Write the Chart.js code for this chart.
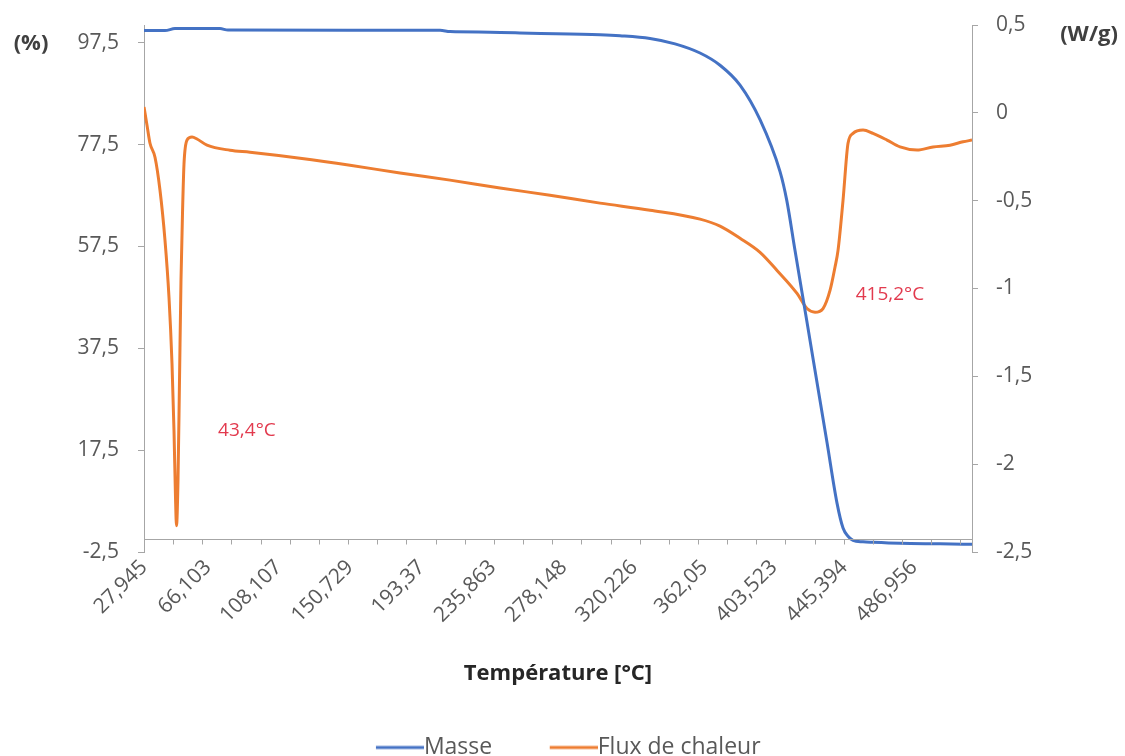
<!DOCTYPE html>
<html>
<head>
<meta charset="utf-8">
<script src="https://cdn.jsdelivr.net/npm/chart.js@4.4.1/dist/chart.umd.min.js"></script>
<style>
  html, body { margin: 0; padding: 0; background: #fff; }
  #wrap { width: 1125px; height: 756px; position: relative; }
</style>
</head>
<body>
<div id="wrap"><canvas id="tgaChart"></canvas></div>
<script>
// temperature ticks shown on the x axis (°C)
const tempTicks = [27.945, 66.103, 108.107, 150.729, 193.37, 235.863, 278.148, 320.226, 362.05, 403.523, 445.394, 486.956];
const massTicks = [-2.5, 17.5, 37.5, 57.5, 77.5, 97.5];

// Masse (%)
const masseTemp = [27.95, 40.46, 46.42, 73.25, 78.02, 204.39, 210.36, 234.20, 258.04, 299.77, 311.69, 329.58,
  344.48, 359.39, 371.31, 383.23, 395.15, 407.07, 411.06, 416.01, 423.16, 429.12, 435.08, 441.04, 444.62,
  447.60, 450.58, 456.54, 462.50, 478.60, 502.44, 521.52];
const masseVals = [99.9, 99.9, 100.3, 100.3, 100.0, 99.95, 99.7, 99.6, 99.4, 99.1, 98.9, 98.35,
  97.3, 95.5, 93.1, 89.2, 82.4, 72.2, 66.6, 56.7, 42.6, 30.8, 19.0, 7.1, 2.2,
  0.6, -0.2, -0.5, -0.6, -0.8, -0.9, -1.0];

// Flux de chaleur (W/g)
const fluxTemp = [27.95, 29.73, 31.52, 34.50, 37.48, 40.46, 42.85, 44.64, 45.83, 46.72, 47.32, 48.21, 49.11,
  50.00, 50.90, 51.79, 53.58, 56.56, 59.54, 65.50, 79.21, 91.13, 120.94, 150.75, 180.55, 210.36, 240.16,
  269.97, 299.77, 329.58, 359.39, 371.31, 383.23, 395.15, 405.28, 417.20, 423.16, 427.93, 432.70, 436.87,
  439.85, 441.64, 444.62, 447.60, 450.58, 456.54, 462.50, 470.85, 478.60, 488.73, 498.27, 508.40, 516.15, 521.52];
const fluxVals = [0.033, -0.07, -0.173, -0.253, -0.441, -0.726, -1.051, -1.428, -1.81, -2.19, -2.35, -2.09, -1.52,
  -0.95, -0.57, -0.29, -0.155, -0.138, -0.149, -0.184, -0.213, -0.224, -0.258, -0.298, -0.343, -0.383, -0.428,
  -0.469, -0.514, -0.554, -0.605, -0.645, -0.714, -0.794, -0.897, -1.028, -1.114, -1.135, -1.114, -1.011,
  -0.878, -0.783, -0.498, -0.173, -0.117, -0.098, -0.117, -0.155, -0.194, -0.212, -0.194, -0.184, -0.165, -0.155];

const peakNotes = [
  { text: '43,4°C', t: 89.3, v: -1.81 },
  { text: '415,2°C', t: 472.6, v: -1.034 }
];

const FONT = "'Open Sans', 'Noto Sans', sans-serif";
const AXIS_GREY = '#a6a6a6';
const TEXT_GREY = '#595959';
const minorStep = 17.38;
const LEGEND_FONT = 23;
const LEGEND_LINE = 48;

const comma = v => String(v).replace('.', ',');

// legend sample: a line that runs right up to the label text
function legendLine(color) {
  const gap = LEGEND_FONT / 2;
  const c = document.createElement('canvas');
  c.width = LEGEND_LINE + 2 * gap;
  c.height = 6;
  const g = c.getContext('2d');
  g.strokeStyle = color;
  g.lineWidth = 3;
  g.beginPath();
  g.moveTo(2 * gap, 3);
  g.lineTo(c.width, 3);
  g.stroke();
  return c;
}

// y axes: fixed width, and no extra room reserved above/below for their labels
function fixWidth(w) {
  return s => {
    s.width = w;
    s.paddingTop = 0;
    s.paddingBottom = 0;
  };
}

// horizontal axis line crossing at 0 %, minor tick marks, unit labels, peak notes
const extras = {
  id: 'extras',
  afterDatasetsDraw(chart) {
    const { ctx, chartArea, scales } = chart;
    const y0 = Math.round(scales.y.getPixelForValue(0)) + 0.5;
    ctx.save();
    ctx.strokeStyle = AXIS_GREY;
    ctx.lineWidth = 1;
    ctx.beginPath();
    ctx.moveTo(chartArea.left, y0);
    ctx.lineTo(chartArea.right, y0);
    for (let t = tempTicks[0] + minorStep; t < scales.x.max; t += minorStep) {
      const px = Math.round(scales.x.getPixelForValue(t)) + 0.5;
      ctx.moveTo(px, y0);
      ctx.lineTo(px, y0 + 5);
    }
    ctx.stroke();

    ctx.fillStyle = '#404040';
    ctx.font = "bold 22px " + FONT;
    ctx.textAlign = 'center';
    ctx.textBaseline = 'middle';
    ctx.fillText('(%)', 31, 44);
    ctx.fillText('(W/g)', 1089, 35);

    ctx.fillStyle = '#e23a4e';
    ctx.font = "19px " + FONT;
    peakNotes.forEach(n => {
      ctx.fillText(n.text, scales.x.getPixelForValue(n.t), scales.y2.getPixelForValue(n.v));
    });
    ctx.restore();
  }
};

document.addEventListener('DOMContentLoaded', function () {
  const ctx = document.getElementById('tgaChart').getContext('2d');
  new Chart(ctx, {
    type: 'line',
    data: {
      datasets: [{
        label: 'Masse',
        data: masseTemp.map((t, i) => ({ x: t, y: masseVals[i] })),
        borderColor: '#4472C4',
        backgroundColor: '#4472C4',
        borderWidth: 3,
        pointRadius: 0,
        pointStyle: legendLine('#4472C4'),
        cubicInterpolationMode: 'monotone',
        yAxisID: 'y'
      }, {
        label: 'Flux de chaleur',
        data: fluxTemp.map((t, i) => ({ x: t, y: fluxVals[i] })),
        borderColor: '#ED7D31',
        backgroundColor: '#ED7D31',
        borderWidth: 3,
        pointRadius: 0,
        pointStyle: legendLine('#ED7D31'),
        cubicInterpolationMode: 'monotone',
        yAxisID: 'y2'
      }]
    },
    options: {
      responsive: true,
      maintainAspectRatio: false,
      animation: false,
      layout: { padding: { top: 25, bottom: -13 } },
      scales: {
        x: {
          type: 'linear',
          min: 27.945,
          max: 521.5,
          afterBuildTicks: s => { s.ticks = tempTicks.map(v => ({ value: v })); },
          afterFit: s => { s.height = 138; },
          grid: { display: false },
          border: { display: false },
          ticks: {
            autoSkip: false,
            minRotation: 45,
            maxRotation: 45,
            padding: -5,
            color: TEXT_GREY,
            font: { family: FONT, size: 21 },
            callback: v => comma(v)
          },
          title: {
            display: true,
            text: 'Température [°C]',
            color: '#262626',
            font: { family: FONT, size: 22, weight: 'bold' },
            padding: { top: 0, bottom: 3 }
          }
        },
        y: {
          position: 'left',
          min: -2.5,
          max: 101,
          afterBuildTicks: s => { s.ticks = massTicks.map(v => ({ value: v })); },
          afterFit: fixWidth(144),
          grid: { drawOnChartArea: false, tickLength: 6, tickColor: AXIS_GREY },
          border: { color: AXIS_GREY },
          ticks: {
            padding: 19,
            color: TEXT_GREY,
            font: { family: FONT, size: 21 },
            callback: v => comma(v)
          }
        },
        y2: {
          position: 'right',
          min: -2.5,
          max: 0.5,
          afterFit: fixWidth(153),
          grid: { drawOnChartArea: false, tickLength: 6, tickColor: AXIS_GREY },
          border: { color: AXIS_GREY },
          ticks: {
            stepSize: 0.5,
            padding: 18,
            color: TEXT_GREY,
            font: { family: FONT, size: 21 },
            callback: v => comma(v)
          }
        }
      },
      plugins: {
        legend: {
          position: 'bottom',
          labels: {
            usePointStyle: true,
            pointStyleWidth: LEGEND_LINE,
            padding: 46,
            color: TEXT_GREY,
            font: { family: FONT, size: LEGEND_FONT }
          }
        },
        tooltip: { enabled: false }
      }
    },
    plugins: [extras]
  });
});
</script>
</body>
</html>
